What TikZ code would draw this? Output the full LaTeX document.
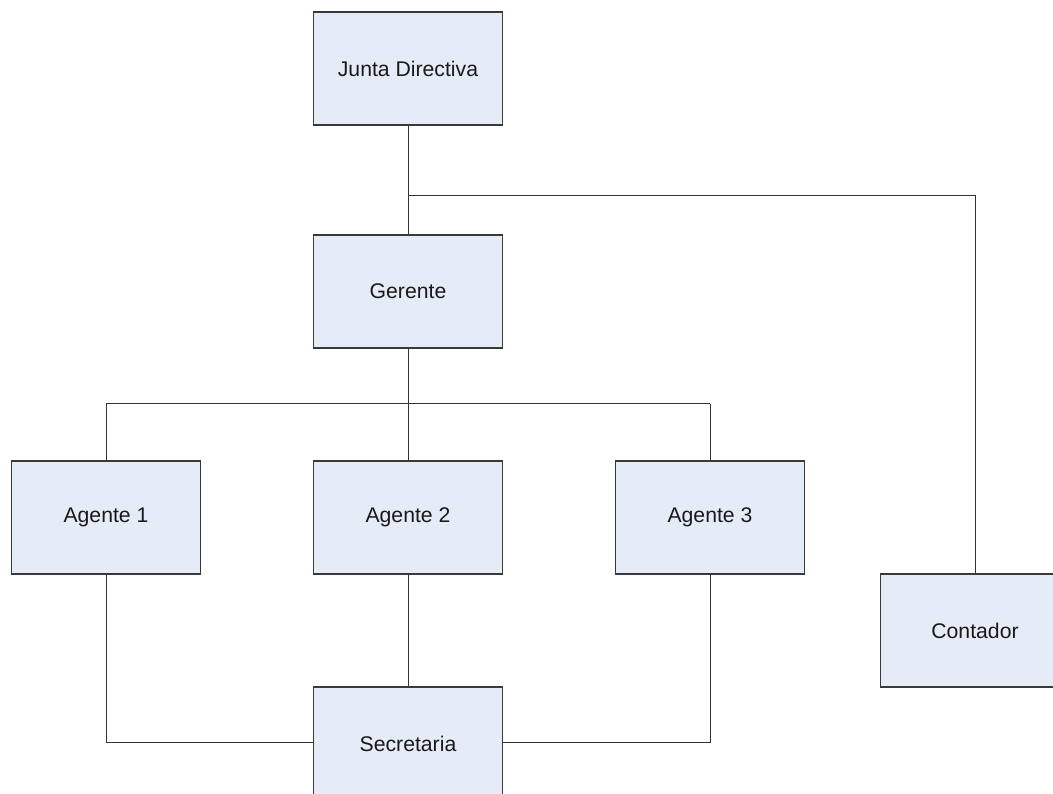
\documentclass[tikz,border=0pt]{standalone}
\usepackage{fontspec}
\setmainfont{Liberation Sans}
\definecolor{boxfill}{HTML}{E6ECF7}
\definecolor{boxline}{HTML}{3A3A3A}
\begin{document}
\begin{tikzpicture}[x=1pt,y=-1pt,
  orgbox/.style={draw=boxline,fill=boxfill,line width=1.1pt,rectangle,
    minimum width=189pt,minimum height=113pt,inner sep=0pt,
    font=\fontsize{21.2}{25}\selectfont,text=black!90},
  link/.style={draw=black!80,line width=1pt}]
\useasboundingbox (0,0) rectangle (1053,794);
\clip (0,0) rectangle (1053,794);
\node[orgbox] (junta) at (408,68.5) {Junta Directiva};
\node[orgbox] (gerente) at (408,291.5) {Gerente};
\node[orgbox] (ag1) at (106,517.5) {Agente 1};
\node[orgbox] (ag2) at (408,517.5) {Agente 2};
\node[orgbox] (ag3) at (710,517.5) {Agente 3};
\node[orgbox] (contador) at (975,630.5) {Contador};
\node[orgbox] (secre) at (408,743.5) {Secretaria};
\coordinate (j1) at (408,196);
\coordinate (j2) at (975,196);
\coordinate (g1) at (408,404);
\coordinate (b1) at (106,404);
\coordinate (b3) at (710,404);
\coordinate (s1) at (106,742);
\coordinate (s3) at (710,742);
\draw[link] (junta.south) -- (gerente.north);
\draw[link] (j1) -- (j2) -- (contador.north);
\draw[link] (gerente.south) -- (g1);
\draw[link] (b1) -- (b3);
\draw[link] (b1) -- (ag1.north);
\draw[link] (g1) -- (ag2.north);
\draw[link] (b3) -- (ag3.north);
\draw[link] (ag1.south) -- (s1) -- (secre.west |- s1);
\draw[link] (ag2.south) -- (secre.north);
\draw[link] (ag3.south) -- (s3) -- (secre.east |- s3);
\end{tikzpicture}
\end{document}
